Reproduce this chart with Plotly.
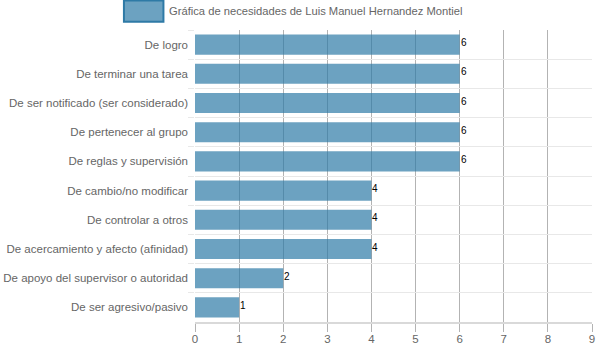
import plotly.graph_objects as go

categories = [
    "De logro",
    "De terminar una tarea",
    "De ser notificado (ser considerado)",
    "De pertenecer al grupo",
    "De reglas y supervisión",
    "De cambio/no modificar",
    "De controlar a otros",
    "De acercamiento y afecto (afinidad)",
    "De apoyo del supervisor o autoridad",
    "De ser agresivo/pasivo",
]
values = [6, 6, 6, 6, 6, 4, 4, 4, 2, 1]
series_name = "Gráfica de necesidades de Luis Manuel Hernandez Montiel"
x_ticks = [0, 1, 2, 3, 4, 5, 6, 7, 8, 9]

FONT = "Liberation Sans, Arial, Helvetica, sans-serif"

fig = go.Figure()
fig.add_trace(go.Bar(
    y=categories,
    x=values,
    orientation="h",
    name=series_name,
    width=0.69,
    marker=dict(color="rgba(46,122,166,0.7)", line=dict(width=0)),
    showlegend=False,
    hoverinfo="x+y",
))

# value labels at bar ends
for c, v in zip(categories, values):
    fig.add_annotation(
        x=v, y=c, xref="x", yref="y", text=str(v), showarrow=False,
        xanchor="left", yanchor="middle", xshift=-1, yshift=2,
        font=dict(family=FONT, size=10, color="#000000"),
    )

# manual legend (Chart.js-like wide swatch)
fig.add_shape(
    type="rect", xref="paper", yref="paper",
    x0=-0.179, x1=-0.0795, y0=1.028, y1=1.101,
    fillcolor="rgba(46,122,166,0.7)",
    line=dict(color="#2e7aa6", width=2),
)
fig.add_annotation(
    xref="paper", yref="paper", x=-0.0705, y=1.065,
    xanchor="left", yanchor="middle", showarrow=False,
    text=series_name,
    font=dict(family=FONT, size=11.2, color="#666666"),
)

fig.update_layout(
    width=598, height=348,
    margin=dict(l=195, r=6, t=30, b=26),
    paper_bgcolor="white", plot_bgcolor="white",
    font=dict(family=FONT, size=11, color="#666666"),
    xaxis=dict(
        range=[0, 9], tickvals=x_ticks, ticktext=[str(t) for t in x_ticks],
        showgrid=True, gridcolor="#b3b3b3", gridwidth=1,
        ticks="outside", ticklen=8, tickcolor="#b3b3b3",
        ticklabelstandoff=-3,
        showline=True, linecolor="#d9d9d9", linewidth=2,
        zeroline=False, automargin=False,
        tickfont=dict(family=FONT, size=11.5, color="#666666"),
    ),
    yaxis=dict(
        autorange="reversed", type="category",
        tickson="boundaries",
        showgrid=True, gridcolor="#e8e8e8", gridwidth=1,
        ticks="outside", ticklen=6, tickcolor="#e8e8e8",
        ticklabelstandoff=6,
        showline=False, zeroline=False, automargin=False,
        tickfont=dict(family=FONT, size=11.5, color="#666666"),
    ),
)

fig.write_html("out.html")
